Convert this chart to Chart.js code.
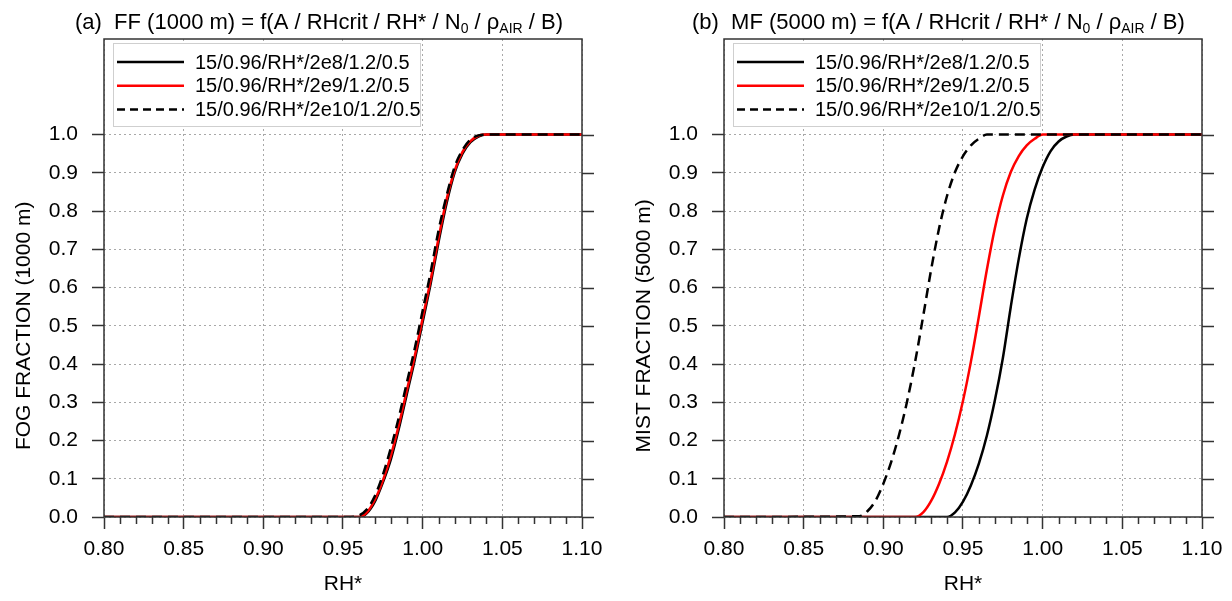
<!DOCTYPE html>
<html>
<head>
<meta charset="utf-8">
<script src="https://cdn.jsdelivr.net/npm/chart.js@4.4.1/dist/chart.umd.min.js"></script>
<style>
  body { margin: 0; background: #fff; width: 1232px; height: 601px; overflow: hidden; position: relative; }
  .panel { position: absolute; top: 0; width: 616px; height: 601px; }
</style>
</head>
<body>
<div class="panel" style="left:0"><canvas id="chart-a"></canvas></div>
<div class="panel" style="left:616px"><canvas id="chart-b"></canvas></div>
<script>
// tick values and legend text
const xTicks = [0.80, 0.85, 0.90, 0.95, 1.00, 1.05, 1.10];
const yTicks = [0.0, 0.1, 0.2, 0.3, 0.4, 0.5, 0.6, 0.7, 0.8, 0.9, 1.0];
const seriesLabels = ["15/0.96/RH*/2e8/1.2/0.5", "15/0.96/RH*/2e9/1.2/0.5", "15/0.96/RH*/2e10/1.2/0.5"];

// (a) fog fraction, 1000 m
const rhA = [0.80, 0.955, 0.96, 0.965, 0.97, 0.975, 0.98, 0.985, 0.99, 0.995, 1.00, 1.005, 1.01, 1.015, 1.02, 1.025, 1.03, 1.035, 1.04, 1.10];
const ffA2e8 = [0, 0, 0, 0.01, 0.04, 0.09, 0.15, 0.23, 0.32, 0.41, 0.51, 0.61, 0.72, 0.82, 0.90, 0.95, 0.98, 0.995, 1, 1];
const ffA2e9 = [0, 0, 0, 0.012, 0.045, 0.095, 0.16, 0.24, 0.33, 0.42, 0.52, 0.62, 0.73, 0.83, 0.905, 0.955, 0.983, 0.997, 1, 1];
const ffA2e10 = [0, 0, 0.004, 0.02, 0.055, 0.11, 0.18, 0.26, 0.35, 0.44, 0.54, 0.64, 0.75, 0.84, 0.915, 0.96, 0.987, 0.998, 1, 1];

// (b) mist fraction, 5000 m
const rhB = [0.80, 0.885, 0.89, 0.895, 0.90, 0.905, 0.91, 0.915, 0.92, 0.925, 0.93, 0.935, 0.94, 0.945, 0.95,
             0.955, 0.96, 0.965, 0.97, 0.975, 0.98, 0.985, 0.99, 0.995, 1.00, 1.005, 1.01, 1.015, 1.02, 1.10];
const mfB2e8 = [0, 0, 0, 0, 0, 0, 0, 0, 0, 0, 0, 0, 0, 0.012, 0.04,
                0.083, 0.14, 0.213, 0.305, 0.415, 0.55, 0.675, 0.78, 0.857, 0.915, 0.957, 0.982, 0.995, 1, 1];
const mfB2e9 = [0, 0, 0, 0, 0, 0, 0, 0, 0, 0.012, 0.042, 0.087, 0.145, 0.217, 0.304,
                0.407, 0.525, 0.647, 0.755, 0.84, 0.902, 0.944, 0.972, 0.989, 1, 1, 1, 1, 1, 1];
const mfB2e10 = [0, 0.002, 0.015, 0.042, 0.087, 0.145, 0.217, 0.304, 0.407, 0.525, 0.647, 0.755, 0.84, 0.902, 0.944,
                 0.972, 0.989, 1, 1, 1, 1, 1, 1, 1, 1, 1, 1, 1, 1, 1];

const FONT = "'Liberation Sans', Arial, Helvetica, sans-serif";
const AXIS = "#333";

const toPoints = (xs, ys) => xs.map((x, i) => ({ x: x, y: ys[i] }));

const lineStyles = [
  { color: "#000000", dash: [] },
  { color: "#ff0000", dash: [] },
  { color: "#000000", dash: [10, 6] },
];

// box, extra ticks, titles and legend
const decor = {
  id: "decor",
  afterDraw(chart, args, opts) {
    const { ctx, chartArea: a } = chart;
    const xs = chart.scales.x;
    const ys = chart.scales.y;
    ctx.save();

    ctx.strokeStyle = AXIS;
    ctx.lineWidth = 1.5;
    ctx.strokeRect(a.left, a.top, a.right - a.left, a.bottom - a.top);

    // minor x ticks
    ctx.beginPath();
    for (let i = 80; i <= 110; i++) {
      if (i % 5 === 0) continue;
      const px = Math.round(xs.getPixelForValue(i / 100)) + 0.5;
      ctx.moveTo(px, a.bottom);
      ctx.lineTo(px, a.bottom + 7);
    }
    // right side ticks
    yTicks.forEach((v) => {
      const py = Math.round(ys.getPixelForValue(v)) + 0.5;
      ctx.moveTo(a.right, py);
      ctx.lineTo(a.right + 12, py);
    });
    ctx.stroke();

    // title with subscripts
    let tx = opts.titleX;
    const ty = 29;
    ctx.fillStyle = "#000";
    ctx.textBaseline = "alphabetic";
    ctx.textAlign = "left";
    opts.title.forEach((part) => {
      ctx.font = (part.sub ? "14px " : "22px ") + FONT;
      ctx.fillText(part.t, tx, part.sub ? ty + 4 : ty);
      tx += ctx.measureText(part.t).width;
    });

    // axis titles
    ctx.font = "21px " + FONT;
    ctx.textAlign = "center";
    ctx.textBaseline = "middle";
    ctx.fillText("RH*", (a.left + a.right) / 2, 584);
    ctx.save();
    ctx.translate(a.left - 80, ys.getPixelForValue(0.5));
    ctx.rotate(-Math.PI / 2);
    ctx.fillText(opts.yTitle, 0, 0);
    ctx.restore();

    // legend
    const lx = a.left + 9;
    const ly = a.top + 4;
    ctx.fillStyle = "#fff";
    ctx.fillRect(lx, ly, 307, 83);
    ctx.strokeStyle = "#cfcfcf";
    ctx.lineWidth = 1;
    ctx.strokeRect(lx + 0.5, ly + 0.5, 307, 83);
    ctx.font = "20px " + FONT;
    ctx.textAlign = "left";
    ctx.textBaseline = "middle";
    seriesLabels.forEach((label, i) => {
      const ry = ly + 19 + i * 23.7;
      ctx.strokeStyle = lineStyles[i].color;
      ctx.lineWidth = 2.5;
      ctx.setLineDash(lineStyles[i].dash.length ? [8, 5] : []);
      ctx.beginPath();
      ctx.moveTo(lx + 4, ry);
      ctx.lineTo(lx + 71, ry);
      ctx.stroke();
      ctx.setLineDash([]);
      ctx.fillStyle = "#000";
      ctx.fillText(label, lx + 82, ry + 1);
    });

    ctx.restore();
  },
};

function makeChart(canvasId, xs, series, plotLeft, plotRight, title, titleX, yTitle) {
  const datasets = series.map((ys, i) => ({
    label: seriesLabels[i],
    data: toPoints(xs, ys),
    borderColor: lineStyles[i].color,
    borderDash: lineStyles[i].dash,
    borderWidth: 2.5,
    pointRadius: 0,
    cubicInterpolationMode: "monotone",
    order: 3 - i,
  }));

  return new Chart(document.getElementById(canvasId), {
    type: "line",
    data: { datasets: datasets },
    options: {
      responsive: true,
      maintainAspectRatio: false,
      animation: false,
      events: [],
      layout: { padding: { left: 0, right: 616 - plotRight, top: 39, bottom: 0 } },
      plugins: {
        legend: { display: false },
        tooltip: { enabled: false },
        decor: { title: title, titleX: titleX, yTitle: yTitle },
      },
      scales: {
        x: {
          type: "linear",
          min: 0.8,
          max: 1.1,
          afterBuildTicks: (s) => { s.ticks = xTicks.map((v) => ({ value: v })); },
          afterFit: (s) => { s.height = 84; },
          ticks: {
            callback: (v) => v.toFixed(2),
            color: "#000",
            font: { family: FONT, size: 21 },
            padding: 8,
            maxRotation: 0,
          },
          grid: { color: "#a8a8a8", lineWidth: 1, tickLength: 12, tickColor: AXIS, tickWidth: 1.5 },
          border: { display: false, dash: [2, 3] },
        },
        y: {
          type: "linear",
          min: 0,
          max: 1.25,
          afterBuildTicks: (s) => { s.ticks = yTicks.map((v) => ({ value: v })); },
          afterFit: (s) => { s.width = plotLeft; },
          ticks: {
            callback: (v) => v.toFixed(1),
            color: "#000",
            font: { family: FONT, size: 21 },
            padding: 14,
          },
          grid: { color: "#a8a8a8", lineWidth: 1, tickLength: 12, tickColor: AXIS, tickWidth: 1.5 },
          border: { display: false, dash: [2, 3] },
        },
      },
    },
    plugins: [decor],
  });
}

makeChart("chart-a", rhA, [ffA2e8, ffA2e9, ffA2e10], 104, 582,
  [{ t: "(a)  FF (1000 m) = f(A / RHcrit / RH* / N" }, { t: "0", sub: true }, { t: " / \u03c1" }, { t: "AIR", sub: true }, { t: " / B)" }],
  75, "FOG FRACTION (1000 m)");

makeChart("chart-b", rhB, [mfB2e8, mfB2e9, mfB2e10], 108, 586,
  [{ t: "(b)  MF (5000 m) = f(A / RHcrit / RH* / N" }, { t: "0", sub: true }, { t: " / \u03c1" }, { t: "AIR", sub: true }, { t: " / B)" }],
  76, "MIST FRACTION (5000 m)");
</script>
</body>
</html>
